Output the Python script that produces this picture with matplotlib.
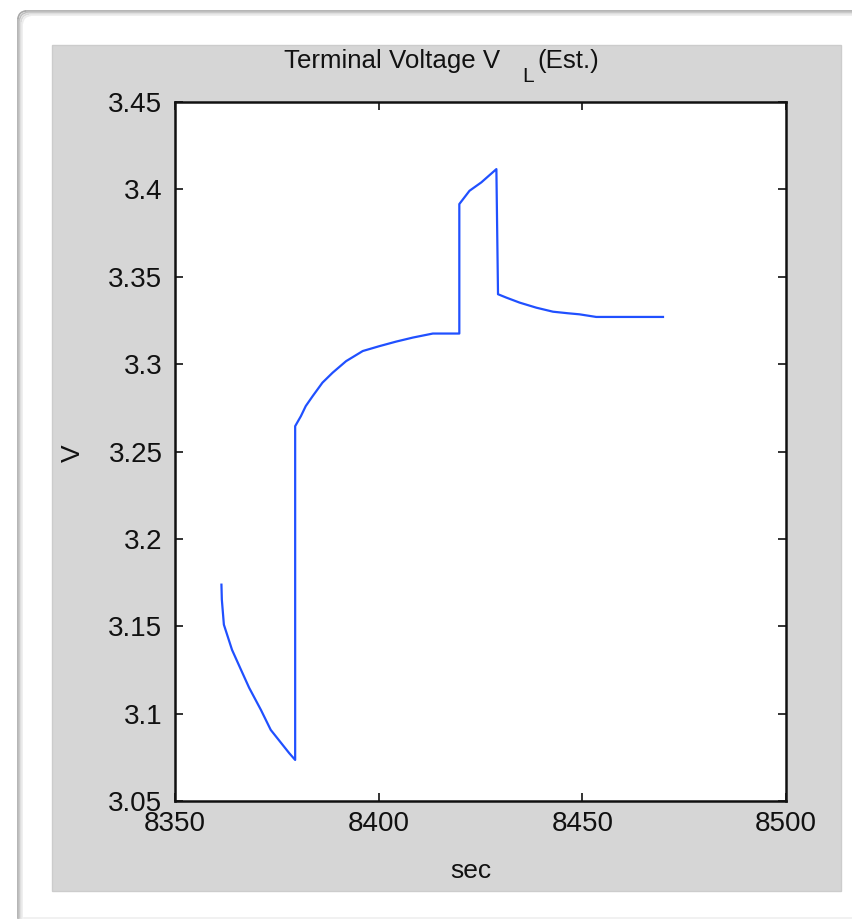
import matplotlib
matplotlib.use("Agg")
import matplotlib.pyplot as plt
from matplotlib.patches import Rectangle, Arc
from matplotlib.lines import Line2D

# ---- data ----
time_s = [8361.4, 8361.5, 8362.0, 8364.0, 8366.2, 8368.2, 8371.1, 8373.5, 8378.0, 8379.5,
          8379.5, 8380.9, 8382.1, 8383.8, 8386.2, 8388.7, 8392.0, 8396.1, 8400.2, 8404.3,
          8408.4, 8413.3, 8419.8,
          8419.8, 8422.3, 8425.2, 8428.9,
          8429.3, 8431.3, 8434.6, 8438.7, 8442.8, 8446.5, 8449.3, 8453.4, 8469.8]
voltage = [3.1738, 3.1652, 3.1509, 3.1365, 3.1251, 3.1148, 3.1021, 3.0907, 3.0775, 3.0735,
           3.2645, 3.2702, 3.2760, 3.2817, 3.2894, 3.2951, 3.3017, 3.3075, 3.3103, 3.3129,
           3.3152, 3.3175, 3.3175,
           3.3916, 3.3992, 3.4040, 3.4116,
           3.3400, 3.3381, 3.3352, 3.3323, 3.3300, 3.3291, 3.3285, 3.3270, 3.3270]
xticks = [8350, 8400, 8450, 8500]
yticks = [3.05, 3.1, 3.15, 3.2, 3.25, 3.3, 3.35, 3.4, 3.45]
ytick_labels = ["3.05", "3.1", "3.15", "3.2", "3.25", "3.3", "3.35", "3.4", "3.45"]
title_main = "Terminal Voltage V"
title_sub = "L"
title_tail = "(Est.)"
xlabel = "sec"
ylabel = "V"

plt.rcParams['font.family'] = ['Liberation Sans', 'DejaVu Sans']

W, H = 853, 921
fig = plt.figure(figsize=(W / 100, H / 100), dpi=100)
fig.patch.set_facecolor('white')

def fx(px):
    return px / W

def fy(py):
    return 1 - py / H

# outer frame shadow: top and left edges with a rounded corner
shadow = [('#a8a8a8', 0), ('#c0c0c0', 1.5), ('#d8d8d8', 3), ('#ececec', 4.5)]
r = 8
for c, off in shadow:
    x0 = 18 + off
    y0 = 11 + off
    fig.add_artist(Line2D([fx(x0 + r), fx(853)], [fy(y0), fy(y0)], color=c, lw=1.2,
                          transform=fig.transFigure, zorder=0))
    fig.add_artist(Line2D([fx(x0), fx(x0)], [fy(y0 + r), fy(918)], color=c, lw=1.2,
                          transform=fig.transFigure, zorder=0))
    fig.add_artist(Arc((fx(x0 + r), fy(y0 + r)), 2 * r / W, 2 * r / H, theta1=90, theta2=180,
                       color=c, lw=1.2, transform=fig.transFigure, zorder=0))
fig.add_artist(Line2D([fx(24), fx(853)], [fy(918), fy(918)], color='#efefef', lw=1.2,
                      transform=fig.transFigure, zorder=0))

# gray panel
fig.patches.append(Rectangle((fx(52), fy(891)), fx(841) - fx(52), fy(45) - fy(891),
                             transform=fig.transFigure, facecolor='#d6d6d6',
                             edgecolor='#cccccc', linewidth=1, zorder=1))

ax = fig.add_axes([fx(175), fy(801), fx(786) - fx(175), fy(102) - fy(801)])
ax.set_zorder(2)
ax.set_facecolor('white')
ax.plot(time_s, voltage, color='#2050ff', linewidth=1.6)
ax.set_xlim(8350, 8500)
ax.set_ylim(3.05, 3.45)
ax.set_xticks(xticks)
ax.set_xticklabels([str(v) for v in xticks])
ax.set_yticks(yticks)
ax.set_yticklabels(ytick_labels)
ax.tick_params(direction='in', top=True, right=True, length=6, width=1.2,
               labelsize=20, colors='#111111')
ax.tick_params(axis='y', pad=9)
ax.tick_params(axis='x', pad=7)
for s in ax.spines.values():
    s.set_linewidth(1.8)
    s.set_color('#111111')

fig.text(fx(500), fy(68), title_main, ha='right', va='baseline', fontsize=18.6,
         color='#111111', zorder=3)
fig.text(fx(522), fy(82), title_sub, ha='left', va='baseline', fontsize=15,
         color='#111111', zorder=3)
fig.text(fx(537), fy(68), title_tail, ha='left', va='baseline', fontsize=18.6,
         color='#111111', zorder=3)
fig.text(fx(471), fy(871), xlabel, ha='center', va='center', fontsize=19, color='#111111', zorder=3)
fig.text(fx(73), fy(453), ylabel, ha='center', va='center', rotation=90, fontsize=19,
         color='#111111', zorder=3)

fig.savefig('out.png', dpi=100, facecolor='white')
